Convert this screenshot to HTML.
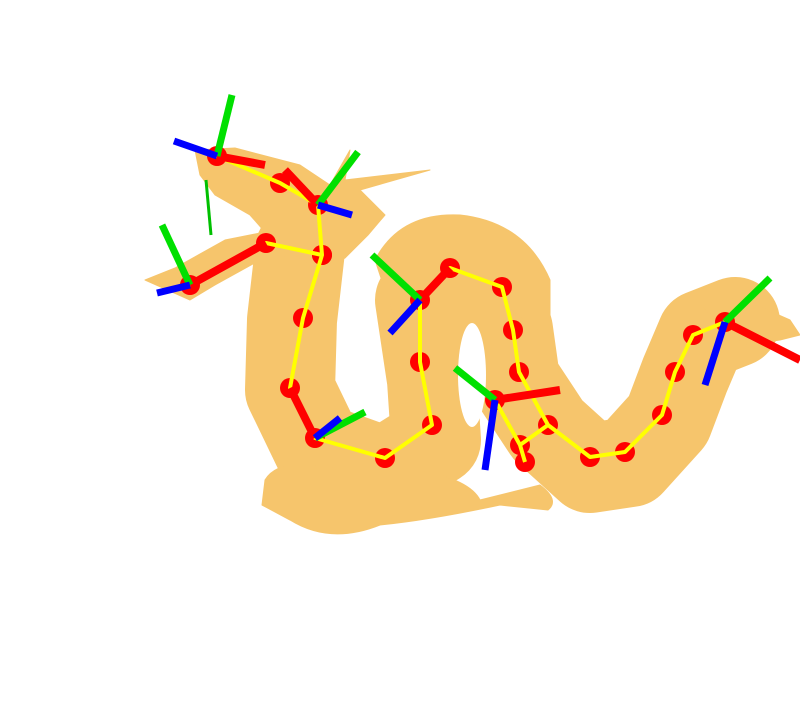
<!DOCTYPE html>
<html><head><meta charset="utf-8"><style>
html,body{margin:0;padding:0;background:#fff;width:800px;height:701px;overflow:hidden}
svg{display:block}
</style></head><body>
<svg id="chart" width="800" height="701" viewBox="0 0 800 701" xmlns="http://www.w3.org/2000/svg">
<g id="body" fill="#F6C56C" stroke="#F6C56C" stroke-linejoin="round" stroke-linecap="round">
  <path fill="none" stroke-width="90" d="M300 250 L292 320 L290 390 L318 448 L385 472 L436 440 L432 380 L420 300 L450 262 L495 285 L508 330 L515 380 L548 430 L590 468 L630 462 L668 420 L685 375 L702 335 L735 322"/>
  <path stroke-width="1" d="M700 305 L740 298 L790 320 L800 335 L780 340 L745 345 Z"/>
  <path stroke-width="1" d="M265 480 Q280 455 340 470 L420 470 Q470 480 480 500 L540 485 Q560 500 548 510 L500 505 Q430 520 380 525 Q330 545 290 520 L262 505 Z"/>
  <path stroke-width="1" d="M195 150 L235 148 L300 165 L330 185 L350 150 L345 180 L430 170 L360 190 L385 215 L368 235 L345 258 L320 270 L295 255 L260 260 L215 285 L190 300 L145 280 L175 268 L225 240 L265 232 L250 215 L215 195 L200 175 Z"/>
  <path stroke-width="1" d="M375 260 Q400 212 460 215 Q525 222 550 280 L550 340 L500 300 L440 290 L395 320 Z"/>
  <ellipse cx="472" cy="375" rx="14" ry="52" fill="#fff" stroke="none"/>
</g>
<g id="skel"></g>
</svg>
<script>
const spineX=[217,280,318,322,303,290,315,385,432,420,420,450,502,513,519,548,590,625,662,675,693,725];
const spineY=[156,183,205,255,318,388,438,458,425,362,300,268,287,330,372,425,457,452,415,372,335,322];
const jawX=[190,266,322];
const jawY=[285,243,255];
const branchX=[495,520,525];
const branchY=[400,445,462];
const jointX=[217,318,190,315,420,495,725];
const jointY=[156,205,285,438,300,400,322];
const redDX=[48,-33,76,-25,30,65,75];
const redDY=[9,-35,-42,-50,-32,-10,38];
const greenDX=[15,40,-28,50,-48,-40,45];
const greenDY=[-61,-53,-60,-26,-45,-32,-44];
const blueDX=[-43,34,-33,25,-30,-10,-20];
const blueDY=[-15,10,8,-20,33,70,63];
const NS='http://www.w3.org/2000/svg';
const g=document.getElementById('skel');
function mk(t,a){const e=document.createElementNS(NS,t);for(const k in a)e.setAttribute(k,a[k]);g.appendChild(e);return e;}
function poly(xs,ys,name){
  const e=mk('polyline',{points:xs.map((x,i)=>x+','+ys[i]).join(' '),fill:'none',stroke:'#FFFF00','stroke-width':4,'stroke-linejoin':'round'});
  
  
}
function dots(xs,ys,name){xs.forEach((x,i)=>{
  const c=mk('circle',{cx:x,cy:ys[i],r:10,fill:'#FF0000'});
  
  
});}
dots(spineX,spineY,'spine-joint');dots(jawX,jawY,'jaw-joint');dots(branchX,branchY,'leg-joint');
poly(spineX,spineY,'spine-bone');poly(jawX,jawY,'jaw-bone');poly(branchX,branchY,'leg-bone');
const lb=mk('line',{x1:520,y1:445,x2:548,y2:425,stroke:'#FFFF00','stroke-width':4});


for(let i=0;i<jointX.length;i++){
  const r=mk('line',{x1:jointX[i],y1:jointY[i],x2:jointX[i]+redDX[i],y2:jointY[i]+redDY[i],stroke:'#FF0000','stroke-width':8});
  
  
}
for(let i=0;i<jointX.length;i++){
  const gr=mk('line',{x1:jointX[i],y1:jointY[i],x2:jointX[i]+greenDX[i],y2:jointY[i]+greenDY[i],stroke:'#00E000','stroke-width':7});
  
  
  const b=mk('line',{x1:jointX[i],y1:jointY[i],x2:jointX[i]+blueDX[i],y2:jointY[i]+blueDY[i],stroke:'#0000FF','stroke-width':7});
  
  
}
const tg=mk('line',{x1:206,y1:180,x2:211,y2:235,stroke:'#00C000','stroke-width':3});


</script>
</body></html>
